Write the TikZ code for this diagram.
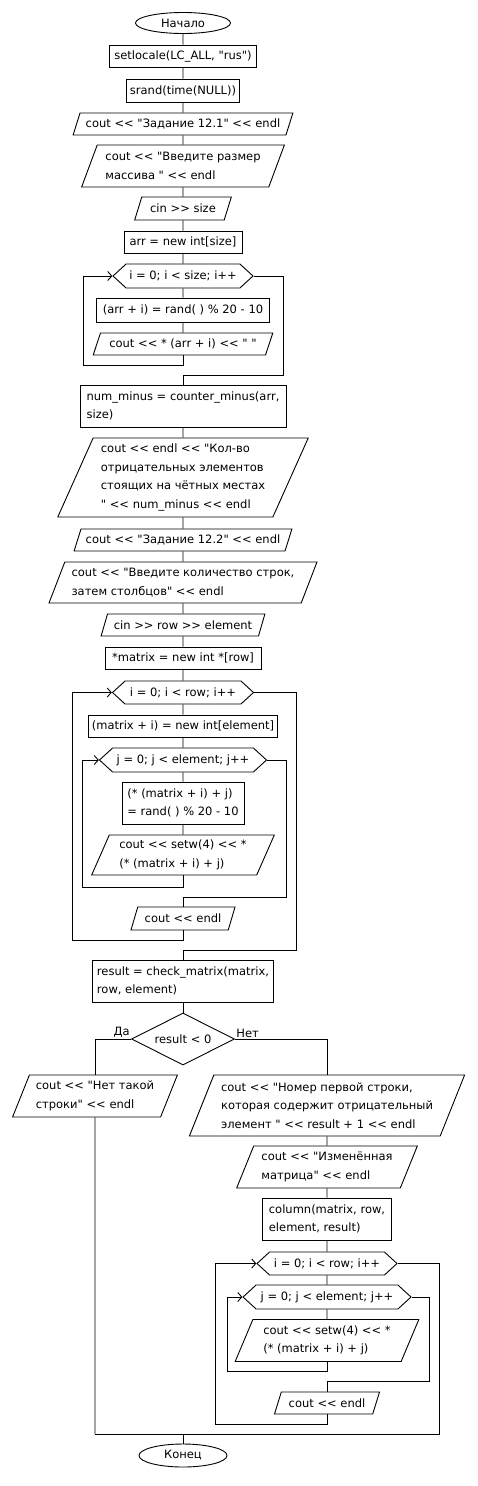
\documentclass[tikz,border=0pt]{standalone}
\usepackage{fontspec}
\setmainfont[Ligatures=TeXOff]{DejaVu Sans}
\usetikzlibrary{shapes.geometric,shapes.symbols,arrows.meta}

\begin{document}
\begin{tikzpicture}[x=1pt, y=-1pt, line width=0.9pt]
	\tikzstyle{every node} = [draw, inner sep=2pt, font=\fontsize{11.5}{18.5}\selectfont, align=left]
	\tikzstyle{term} = [ellipse, inner sep=0pt]
	\tikzstyle{proc} = [rectangle]
	\tikzstyle{io} = [trapezium, trapezium left angle=65, trapezium right angle=115, trapezium stretches=true]
	\tikzstyle{limit} = [signal, signal to=west and east, signal pointer angle=85]
	\tikzstyle{decision} = [diamond, aspect=2, inner sep=0pt]
	\tikzstyle{back} = [-{Straight Barb[length=4pt, width=9pt]}]
	\tikzstyle{lbl} = [draw=none, inner sep=1pt]
	\useasboundingbox (0,0) rectangle (477,1486);
	\node [term, minimum width=95, minimum height=21] (start) at (183, 23) {Начало};
	\node [proc, minimum width=147, minimum height=22] (locale) at (183, 56) {setlocale(LC\_ALL, "rus")};
	\node [proc, minimum width=113, minimum height=23] (srand) at (183, 90.5) {srand(time(NULL))};
	\node [io, minimum width=220, minimum height=22] (task1) at (183, 124) {cout << "Задание 12.1" << endl};
	\node [io, minimum width=203, minimum height=42] (askSize) at (183, 166) {cout << "Введите размер\\массива " << endl};
	\node [io, minimum width=97, minimum height=23] (inSize) at (183, 208.5) {cin >> size};
	\node [proc, minimum width=118, minimum height=22] (arr) at (183, 242) {arr = new int[size]};
	\node [limit, minimum width=140, minimum height=24] (forI1) at (183, 276) {i = 0; i < size; i++};
	\node [proc, minimum width=173, minimum height=24] (fill) at (183, 310) {(arr + i) = rand( ) \% 20 - 10};
	\node [io, minimum width=180, minimum height=22] (print) at (183, 344) {cout << * (arr + i) << " "};
	\node [proc, minimum width=206, minimum height=42] (count) at (183, 406) {num\_minus = counter\_minus(arr,\\size)};
	\node [io, minimum width=251, minimum height=79] (outCount) at (183, 477.5) {cout << endl << "Кол-во\\отрицательных элементов\\стоящих на чётных местах\\" << num\_minus << endl};
	\node [io, minimum width=218, minimum height=22] (task2) at (183, 540) {cout << "Задание 12.2" << endl};
	\node [io, minimum width=269, minimum height=41] (askRow) at (183, 582.5) {cout << "Введите количество строк,\\затем столбцов" << endl};
	\node [io, minimum width=164, minimum height=22] (inRow) at (183, 625) {cin >> row >> element};
	\node [proc, minimum width=156, minimum height=22] (matrix) at (183, 658) {*matrix = new int *[row]};
	\node [limit, minimum width=141, minimum height=23] (forI2) at (183, 692.5) {i = 0; i < row; i++};
	\node [proc, minimum width=189, minimum height=22] (newRow) at (183, 726) {(matrix + i) = new int[element]};
	\node [limit, minimum width=167, minimum height=24] (forJ1) at (183, 760) {j = 0; j < element; j++};
	\node [proc, minimum width=122, minimum height=42] (fillM) at (183, 803) {(* (matrix + i) + j)\\= rand( ) \% 20 - 10};
	\node [io, minimum width=183, minimum height=40] (printM) at (183, 855) {cout << setw(4) << *\\(* (matrix + i) + j)};
	\node [io, minimum width=105, minimum height=23] (endl1) at (183, 918.5) {cout << endl};
	\node [proc, minimum width=181, minimum height=42] (check) at (183, 981) {result = check\_matrix(matrix,\\row, element)};
	\node [decision, minimum width=103, minimum height=52] (cond) at (183, 1039) {result < 0};
	\node [lbl, anchor=south east] (yes) at (cond.west) {Да};
	\node [lbl, anchor=south west] (no) at (cond.east) {Нет};
	\node [io, minimum width=165, minimum height=42] (noRow) at (95, 1096) {cout << "Нет такой\\строки" << endl};
	\node [io, minimum width=276, minimum height=61] (found) at (327, 1105.5) {cout << "Номер первой строки,\\которая содержит отрицательный\\элемент " << result + 1 << endl};
	\node [io, minimum width=181, minimum height=42] (title) at (327, 1167) {cout << "Изменённая\\матрица" << endl};
	\node [proc, minimum width=129, minimum height=42] (column) at (327, 1219) {column(matrix, row,\\element, result)};
	\node [limit, minimum width=140, minimum height=23] (forI3) at (327, 1263.5) {i = 0; i < row; i++};
	\node [limit, minimum width=168, minimum height=24] (forJ2) at (327, 1297) {j = 0; j < element; j++};
	\node [io, minimum width=184, minimum height=42] (printM2) at (327, 1340.5) {cout << setw(4) << *\\(* (matrix + i) + j)};
	\node [io, minimum width=106, minimum height=22] (endl2) at (327, 1403) {cout << endl};
	\node [term, minimum width=88, minimum height=23] (stop) at (183, 1455.5) {Конец};
	\coordinate (lb1) at (83, 365);
	\coordinate (rb1) at (283, 375);
	\coordinate (lb2) at (72, 940);
	\coordinate (rb2) at (296, 950);
	\coordinate (lb3) at (82, 887);
	\coordinate (rb3) at (286, 897);
	\coordinate (lb4) at (215, 1424);
	\coordinate (rb4) at (439, 1434);
	\coordinate (lb5) at (227, 1371);
	\coordinate (rb5) at (429, 1381);
	\coordinate (joinL) at (95, 1434);
	\coordinate (join) at (183, 1434);
	\draw (start) -- (locale) -- (srand) -- (task1) -- (askSize) -- (inSize) -- (arr) -- (forI1) -- (fill) -- (print);
	\draw [back] (print.south) |- (lb1) |- (forI1.west);
	\draw (forI1.east) -| (rb1) -| (count.north);
	\draw (count) -- (outCount) -- (task2) -- (askRow) -- (inRow) -- (matrix) -- (forI2) -- (newRow) -- (forJ1) -- (fillM) -- (printM);
	\draw [back] (printM.south) |- (lb3) |- (forJ1.west);
	\draw (forJ1.east) -| (rb3) -| (endl1.north);
	\draw [back] (endl1.south) |- (lb2) |- (forI2.west);
	\draw (forI2.east) -| (rb2) -| (check.north);
	\draw (check) -- (cond);
	\draw (cond.west) -| (noRow.north);
	\draw (cond.east) -| (found.north);
	\draw (found) -- (title) -- (column) -- (forI3) -- (forJ2) -- (printM2);
	\draw [back] (printM2.south) |- (lb5) |- (forJ2.west);
	\draw (forJ2.east) -| (rb5) -| (endl2.north);
	\draw [back] (endl2.south) |- (lb4) |- (forI3.west);
	\draw (forI3.east) -| (rb4) -- (joinL);
	\draw (noRow.south) -- (joinL);
	\draw (join) -- (stop);
\end{tikzpicture}
\end{document}
